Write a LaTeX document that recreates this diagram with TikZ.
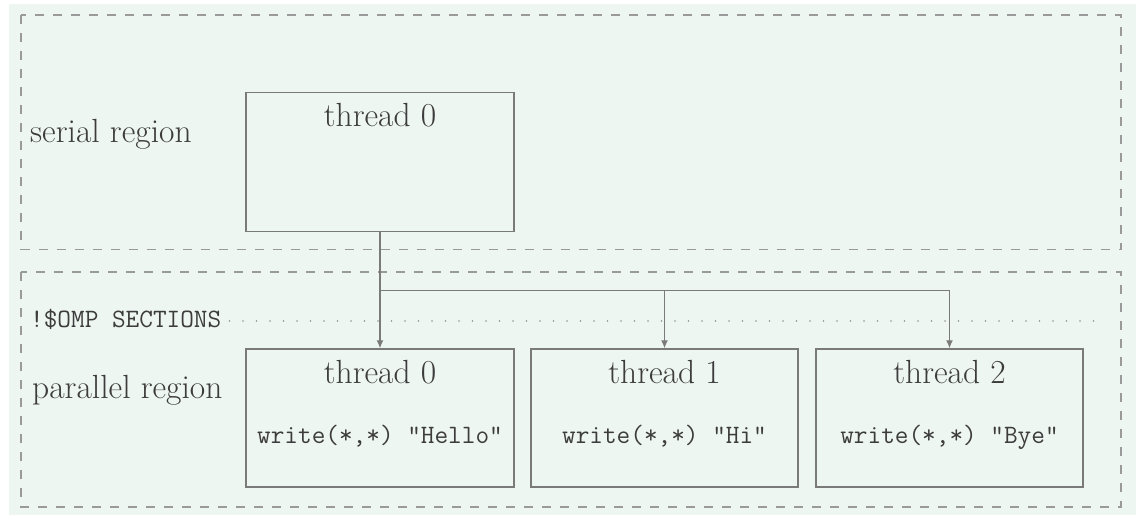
\documentclass[tikz,border=0pt]{standalone}
\usetikzlibrary{arrows.meta}
\definecolor{bgfill}{HTML}{EEF6F2}
\definecolor{linegray}{HTML}{7A7A7A}
\definecolor{dashgray}{HTML}{9A9A9A}
\definecolor{textgray}{HTML}{3C3C3C}
\begin{document}
\begin{tikzpicture}[x=1pt,y=-1pt,
  rmtext/.style={text=textgray,font=\fontsize{33.5}{40}\selectfont,inner sep=0pt},
  tttext/.style={text=textgray,font=\fontsize{26.5}{32}\selectfont\ttfamily,inner sep=0pt},
  region/.style={draw=dashgray,line width=1.3pt,dash pattern=on 9pt off 9pt},
  threadbox/.style={draw=linegray,line width=1.4pt,minimum width=268pt,inner sep=0pt},
  conn/.style={draw=linegray,line width=1.3pt},
  arr/.style={conn,-{Latex[length=8pt,width=7pt]}}]
\useasboundingbox (0,0) rectangle (1136,515);
\fill[bgfill] (9,4) rectangle (1136,515);
% regions
\draw[region] (21,15) rectangle (1121,249.5);
\draw[region] (21,272) rectangle (1121,507);
\node[rmtext,anchor=base west] (serlbl) at (30,142) {serial region};
\node[rmtext,anchor=base west] (parlbl) at (32,398) {parallel region};
\node[tttext,anchor=base west] (omp) at (30,327) {!\$OMP SECTIONS};
\coordinate (dotend) at (1101,321);
\draw[dashgray,line width=1.6pt,line cap=round,dash pattern=on 0.1pt off 13.4pt] ([xshift=8pt]omp.east |- dotend) -- (dotend);
% serial box
\node[threadbox,minimum height=139pt] (s0) at (380,162.2) {};
\node[rmtext,anchor=base] (s0t) at (380,126) {thread 0};
% parallel boxes
\node[threadbox,minimum height=138pt] (p0) at (380,418) {};
\node[threadbox,minimum height=138pt,minimum width=267pt] (p1) at (664.5,418) {};
\node[threadbox,minimum height=138pt,minimum width=267pt] (p2) at (949.5,418) {};
\node[rmtext,anchor=base] (p0t) at (380,383) {thread 0};
\node[rmtext,anchor=base] (p1t) at (664.5,383) {thread 1};
\node[rmtext,anchor=base] (p2t) at (949.5,383) {thread 2};
\node[tttext,anchor=base] (p0w) at (380,443) {write(*,*) "Hello"};
\node[tttext,anchor=base] (p1w) at (664.5,443) {write(*,*) "Hi"};
\node[tttext,anchor=base] (p2w) at (949.5,443) {write(*,*) "Bye"};
% connectors
\coordinate (fork) at (380,290.5);
\draw[arr] (s0.south) -- (p0.north);
\draw[conn] (fork) -- (fork -| p2.north);
\draw[arr] (fork -| p1.north) -- (p1.north);
\draw[arr] (fork -| p2.north) -- (p2.north);
\end{tikzpicture}
\end{document}
